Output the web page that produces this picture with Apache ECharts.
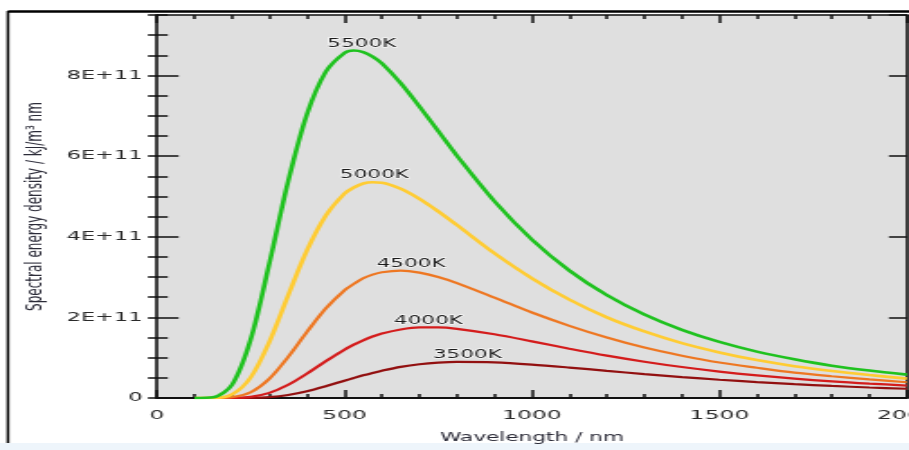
<!DOCTYPE html>
<html>
<head>
<meta charset="utf-8">
<script src="https://cdn.jsdelivr.net/npm/echarts@6/dist/echarts.min.js"></script>
<style>
  html, body { margin: 0; padding: 0; background: #ffffff; overflow: hidden; }
  #wrap { width: 909px; height: 450px; overflow: hidden; position: relative; }
  #chart { width: 505px; height: 450px; transform: scaleX(1.8); transform-origin: 0 0; }
</style>
</head>
<body>
<div id="wrap"><div id="chart"></div></div>
<script>
// Wavelengths (nm)
const wavelengths = [100,150,200,250,300,350,400,450,500,525,550,575,600,650,700,750,800,900,1000,1100,1200,1300,1400,1500,1600,1700,1800,1900,2000];
// Spectral energy density, in units of 1E+11
const t5500 = [0, 0.018, 0.325, 1.456, 3.35, 5.38, 7.04, 8.09, 8.56, 8.62, 8.58, 8.47, 8.30, 7.81, 7.23, 6.62, 6.01, 4.88, 3.93, 3.16, 2.55, 2.07, 1.69, 1.39, 1.15, 0.96, 0.80, 0.68, 0.58];
const t5000 = [0, 0.003, 0.088, 0.512, 1.40, 2.55, 3.66, 4.52, 5.07, 5.22, 5.32, 5.35, 5.34, 5.19, 4.94, 4.63, 4.29, 3.59, 2.97, 2.44, 2.00, 1.65, 1.36, 1.13, 0.94, 0.79, 0.67, 0.57, 0.48];
const t4500 = [0, 0, 0.018, 0.142, 0.48, 1.02, 1.64, 2.22, 2.67, 2.83, 2.97, 3.06, 3.12, 3.16, 3.11, 3.00, 2.85, 2.49, 2.12, 1.79, 1.50, 1.25, 1.05, 0.88, 0.75, 0.63, 0.54, 0.46, 0.39];
const t4000 = [0, 0, 0.002, 0.029, 0.127, 0.327, 0.605, 0.912, 1.199, 1.323, 1.432, 1.525, 1.60, 1.70, 1.75, 1.75, 1.715, 1.58, 1.405, 1.222, 1.05, 0.90, 0.768, 0.656, 0.561, 0.481, 0.413, 0.357, 0.309];
const t3500 = [0, 0, 0, 0.004, 0.023, 0.075, 0.167, 0.291, 0.428, 0.496, 0.562, 0.623, 0.678, 0.771, 0.837, 0.878, 0.897, 0.885, 0.830, 0.755, 0.673, 0.593, 0.519, 0.453, 0.394, 0.343, 0.299, 0.261, 0.229];
const seriesNames = ['5500K', '5000K', '4500K', '4000K', '3500K'];
// Curve peaks (label anchors)
const peakWl = [527, 580, 644, 724, 828];
const peakVal = [8.62, 5.35, 3.16, 1.75, 0.90];
// Tick label values
const xTicks = [0, 500, 1000, 1500, 2000];
const yTicks = [0, 2, 4, 6, 8];

const allValues = [t5500, t5000, t4500, t4000, t3500];
const colors = ['#1fc21f', '#ffcc33', '#ee7722', '#d41c1c', '#921010'];
const widths = [2.6, 2.6, 2.2, 2.2, 2.2];
const labelShift = [4, 0, 7, 0, 0];

const FONT = 'DejaVu Sans';
const chart = echarts.init(document.getElementById('chart'), null, { renderer: 'canvas' });

const series = allValues.map((vals, i) => ({
  name: seriesNames[i],
  type: 'line',
  xAxisIndex: 0,
  yAxisIndex: 0,
  data: wavelengths.map((w, j) => [w, vals[j]]),
  showSymbol: false,
  smooth: 0.3,
  clip: true,
  lineStyle: { color: colors[i], width: widths[i] },
  itemStyle: { color: colors[i] },
  z: 10 - i,
  markPoint: {
    symbol: 'circle',
    symbolSize: 0,
    silent: true,
    data: [{ coord: [peakWl[i], peakVal[i]] }],
    label: {
      show: true,
      position: 'top',
      distance: 1,
      offset: [labelShift[i], 0],
      formatter: seriesNames[i],
      color: '#1a1a1a',
      fontFamily: FONT,
      fontSize: 12,
      textBorderColor: 'rgba(255,255,255,0.8)',
      textBorderWidth: 1.5
    }
  }
}));

const yMax = 9.5;
const axisColor = '#111111';

chart.setOption({
  animation: false,
  backgroundColor: '#ffffff',
  textStyle: { fontFamily: FONT },
  graphic: [
    { type: 'rect', shape: { x: 0, y: 443, width: 505, height: 7 }, style: { fill: '#eef5fb' }, z: -10 },
    { type: 'line', shape: { x1: 4.4, y1: 11.5, x2: 505, y2: 11.5 }, style: { stroke: '#000', lineWidth: 2.5 }, z: 100 },
    { type: 'line', shape: { x1: 4.4, y1: 11, x2: 4.4, y2: 443 }, style: { stroke: '#000', lineWidth: 1.5 }, z: 100 }
  ],
  grid: {
    left: 87.2, right: 1.2, top: 15, bottom: 52,
    outerBoundsMode: 'none',
    containLabel: false,
    show: true, backgroundColor: '#dfdfdf', borderWidth: 0
  },
  xAxis: [
    {
      type: 'value', position: 'bottom', min: 0, max: 2000, interval: 500,
      axisLine: { show: true, onZero: false, lineStyle: { color: axisColor, width: 2 } },
      axisTick: { show: true, inside: true, length: 8, lineStyle: { color: axisColor, width: 1.5 } },
      minorTick: { show: true, splitNumber: 5, length: 4, lineStyle: { color: axisColor, width: 1.5 } },
      splitLine: { show: false },
      axisLabel: {
        show: true, margin: 11, color: '#2a2a2a', fontSize: 13, fontFamily: FONT,
        formatter: v => xTicks.includes(v) ? String(v) : ''
      },
      name: 'Wavelength / nm', nameLocation: 'middle', nameGap: 34,
      nameTextStyle: { color: '#2b2b38', fontSize: 12, fontFamily: FONT }
    },
    {
      type: 'value', position: 'top', min: 0, max: 2000, interval: 500,
      axisLine: { show: true, onZero: false, lineStyle: { color: axisColor, width: 1.5 } },
      axisTick: { show: true, inside: true, length: 8, lineStyle: { color: axisColor, width: 1.5 } },
      minorTick: { show: true, splitNumber: 5, length: 4, lineStyle: { color: axisColor, width: 1.5 } },
      splitLine: { show: false },
      axisLabel: { show: false }
    }
  ],
  yAxis: [
    {
      type: 'value', position: 'left', min: 0, max: yMax, interval: 2,
      axisLine: { show: true, onZero: false, lineStyle: { color: axisColor, width: 1.6 } },
      axisTick: { show: true, inside: true, length: 12, lineStyle: { color: axisColor, width: 1.5 } },
      splitLine: { show: false },
      axisLabel: {
        show: true, margin: 8, color: '#2a2a2a', fontSize: 12.5, fontFamily: FONT,
        showMaxLabel: false,
        formatter: v => yTicks.includes(v) ? (v === 0 ? '0' : v + 'E+11') : ''
      },
      name: 'Spectral energy density / kJ/m³ nm', nameLocation: 'middle', nameGap: 58,
      nameRotate: 90,
      nameTextStyle: { color: '#2b2b38', fontSize: 12, fontFamily: FONT }
    },
    {
      type: 'value', position: 'left', min: 0, max: yMax, interval: 0.5,
      axisLine: { show: false },
      axisTick: { show: true, inside: true, length: 6, lineStyle: { color: axisColor, width: 1.5 } },
      splitLine: { show: false },
      axisLabel: { show: false }
    },
    {
      type: 'value', position: 'right', min: 0, max: yMax, interval: 2,
      axisLine: { show: true, onZero: false, lineStyle: { color: axisColor, width: 1.6 } },
      axisTick: { show: true, inside: true, length: 10, lineStyle: { color: axisColor, width: 1.5 } },
      splitLine: { show: false },
      axisLabel: { show: false }
    },
    {
      type: 'value', position: 'right', min: 0, max: yMax, interval: 0.5,
      axisLine: { show: false },
      axisTick: { show: true, inside: true, length: 5, lineStyle: { color: axisColor, width: 1.5 } },
      splitLine: { show: false },
      axisLabel: { show: false }
    }
  ],
  series: series
});
</script>
</body>
</html>
